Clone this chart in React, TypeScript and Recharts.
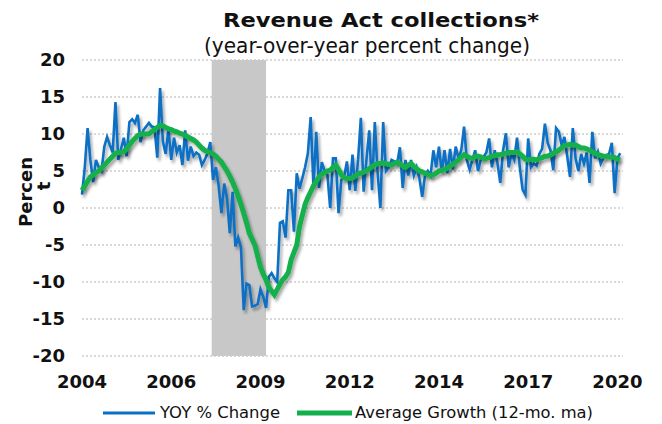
import React from "react";
import {
  CartesianGrid,
  Label,
  Line,
  LineChart,
  ReferenceArea,
  ReferenceLine,
  XAxis,
  YAxis,
} from "recharts";

// monthly, Jan 2004 .. Feb 2020
const yoyChange = [
  1.8, 5.5, 10.8, 6.5, 3.5, 6.5, 5.5, 5.0, 8.3, 9.6, 8.5, 7.5, // 2004
  14.3, 6.5, 8.0, 9.5, 7.0, 11.6, 12.0, 11.5, 12.6, 8.9, 10.5, 11.0, // 2005
  11.5, 11.0, 10.9, 6.8, 16.2, 9.0, 7.3, 10.7, 6.5, 9.5, 7.5, 8.5, // 2006
  5.8, 10.5, 6.4, 8.3, 7.0, 7.5, 7.2, 5.8, 6.5, 7.4, 8.9, 3.8, // 2007
  5.5, 3.0, -0.7, 3.3, 1.3, -3.4, 2.2, -5.2, -4.0, -5.3, -13.8, -10.2, // 2008
  -10.4, -13.3, -13.2, -13.0, -11.0, -12.0, -13.5, -9.3, -8.8, -9.5, -10.0, -2.0, // 2009
  -1.8, -4.0, 2.4, 2.4, -3.2, 4.7, 2.6, 4.0, 5.5, 7.4, 12.3, 2.9, // 2010
  10.3, 2.7, 6.2, 5.0, 4.5, 0.0, 6.7, 6.7, -0.7, 3.8, 4.2, 6.3, // 2011
  2.4, 7.2, 2.3, 6.5, 12.2, 2.2, 6.5, 10.5, 2.4, 11.6, 4.8, 0.0, // 2012
  11.6, 5.0, 5.5, 6.5, 6.3, 6.0, 8.2, 2.7, 6.5, 4.4, 6.5, 4.4, // 2013
  5.5, 4.0, 1.5, 4.4, 5.0, 4.4, 7.8, 5.5, 8.3, 4.8, 7.8, 4.7, // 2014
  8.0, 5.2, 8.3, 6.7, 7.8, 11.0, 6.5, 5.2, 6.5, 7.8, 5.0, 6.5, // 2015
  6.9, 7.5, 9.4, 5.5, 7.8, 6.0, 3.4, 7.8, 10.1, 5.5, 7.3, 6.5, // 2016
  9.5, 5.5, 2.5, 1.8, 9.4, 5.5, 6.0, 5.7, 7.3, 8.0, 11.4, 8.8, // 2017
  7.8, 5.1, 10.8, 10.3, 8.5, 9.6, 7.0, 4.2, 10.8, 6.7, 5.0, 7.3, // 2018
  6.0, 7.5, 3.4, 10.3, 6.7, 7.6, 6.0, 6.8, 7.1, 7.3, 8.8, 2.0, // 2019
  6.7, 7.4, // 2020
];

const avgGrowth = [
  2.4, 3.0, 3.6, 4.2, 4.5, 4.8, 5.0, 5.4, 5.8, 6.2, 6.6, 7.0,
  7.4, 7.5, 7.5, 7.6, 8.0, 8.5, 9.0, 9.4, 9.8, 10.0, 10.0, 10.0,
  10.0, 10.3, 10.6, 10.9, 11.2, 11.1, 10.9, 10.7, 10.6, 10.4, 10.3, 10.1,
  10.0, 9.8, 9.6, 9.4, 9.2, 8.9, 8.5, 8.1, 7.8, 7.6, 7.5, 7.3,
  7.0, 6.6, 6.2, 5.6, 5.0, 4.3, 3.5, 2.6, 1.6, 0.5, -0.7, -2.0,
  -3.4, -4.2, -5.0, -6.5, -8.0, -8.9, -9.7, -10.7, -11.2, -11.7, -11.0, -10.3,
  -9.7, -9.3, -8.7, -7.0, -6.0, -5.0, -2.5, -1.0, 0.5, 1.4, 2.2, 3.0,
  3.6, 4.2, 4.6, 4.8, 5.0, 5.1, 5.5, 5.8, 5.2, 4.5, 4.1, 4.0,
  4.0, 4.1, 4.3, 4.6, 4.7, 4.9, 5.0, 5.3, 5.6, 5.8, 6.0, 6.0,
  6.1, 6.0, 5.9, 5.8, 6.0, 6.2, 6.0, 5.7, 5.5, 5.8, 6.0, 5.6,
  5.3, 5.0, 4.9, 4.7, 4.5, 4.4, 4.5, 4.7, 5.0, 5.1, 5.2, 5.4,
  5.7, 5.9, 6.2, 6.5, 6.9, 7.2, 7.0, 6.8, 6.7, 7.0, 7.0, 6.9,
  6.7, 6.7, 6.8, 7.0, 7.1, 7.2, 7.2, 7.3, 7.4, 7.5, 7.5, 7.5,
  7.6, 7.3, 7.0, 6.6, 6.5, 6.6, 6.6, 6.5, 6.7, 6.8, 7.0, 7.0,
  7.2, 7.4, 7.6, 7.8, 8.1, 8.4, 8.5, 8.6, 8.5, 8.5, 8.3, 8.1,
  8.1, 8.0, 7.8, 7.6, 7.4, 7.2, 7.1, 7.0, 7.0, 6.9, 6.9, 6.8,
  6.6, 6.5,
];

// x ticks every 32 months
const tickMonths = [0, 32, 64, 96, 128, 160, 192];
const tickLabels = ["2004", "2006", "2009", "2012", "2014", "2017", "2020"];
const yTicks = [-20, -15, -10, -5, 0, 5, 10, 15, 20];

// recession Dec 2007 - Jun 2009 (month index)
const recession = [46.5, 66];

const data = yoyChange.map((v, i) => ({ m: i, yoy: v, avg: avgGrowth[i] }));

const FONT = "'DejaVu Sans', Verdana, sans-serif";
const BLUE = "#0a70c4";
const GREEN = "#12b04c";

function YTitle() {
  return (
    <text
      fontFamily={FONT}
      fontWeight="bold"
      fontSize={18}
      fill="#111"
      textAnchor="middle"
      transform="rotate(-90)"
    >
      <tspan x={-192} y={32}>Percen</tspan>
      <tspan x={-186} y={50}>t</tspan>
    </text>
  );
}

export default function App() {
  return (
    <div
      style={{
        position: "absolute",
        left: 0,
        top: 0,
        width: 662,
        height: 424,
        background: "#fff",
        fontFamily: FONT,
      }}
    >
      <svg width={0} height={0} style={{ position: "absolute" }}>
        <defs>
          <filter id="shadow" x="-5%" y="-5%" width="115%" height="120%">
            <feGaussianBlur in="SourceAlpha" stdDeviation="1.6" />
            <feOffset dx="2" dy="3" result="off" />
            <feComponentTransfer>
              <feFuncA type="linear" slope="0.35" />
            </feComponentTransfer>
            <feMerge>
              <feMergeNode />
              <feMergeNode in="SourceGraphic" />
            </feMerge>
          </filter>
        </defs>
      </svg>

      <svg
        width={662}
        height={60}
        style={{ position: "absolute", left: 0, top: 0 }}
      >
        <text
          x={381}
          y={27}
          textAnchor="middle"
          fontFamily={FONT}
          fontWeight="bold"
          fontSize={19}
          fill="#111"
          textLength={316}
          lengthAdjust="spacingAndGlyphs"
        >
          Revenue Act collections*
        </text>
        <text
          x={367}
          y={53}
          textAnchor="middle"
          fontFamily={FONT}
          fontSize={20.5}
          fill="#111"
          textLength={326}
          lengthAdjust="spacingAndGlyphs"
        >
          (year-over-year percent change)
        </text>
      </svg>

      <LineChart
        width={662}
        height={424}
        data={data}
        margin={{ top: 60, right: 39, bottom: 28, left: 0 }}
      >
        <CartesianGrid
          vertical={false}
          stroke="#b4b4b4"
          strokeDasharray="2 2"
        />
        <ReferenceArea
          x1={recession[0]}
          x2={recession[1]}
          y1={-20}
          y2={20}
          fill="#c8c8c8"
          fillOpacity={1}
          stroke="none"
        />
        <XAxis
          type="number"
          dataKey="m"
          domain={[0, 194]}
          ticks={tickMonths}
          tickFormatter={(v) => tickLabels[tickMonths.indexOf(v)]}
          interval={0}
          axisLine={false}
          tickLine={false}
          tickSize={0}
          tickMargin={19}
          height={40}
          tick={{ fontFamily: FONT, fontWeight: "bold", fontSize: 18, fill: "#111" }}
        />
        <YAxis
          type="number"
          domain={[-20, 20]}
          ticks={yTicks}
          interval={0}
          width={82}
          axisLine={false}
          tickLine={false}
          tickSize={0}
          tickMargin={17}
          tick={{ fontFamily: FONT, fontWeight: "bold", fontSize: 18, fill: "#111" }}
        >
          <Label content={<YTitle />} />
        </YAxis>
        <ReferenceLine
          y={0}
          stroke="#1a1a1a"
          strokeWidth={2}
          filter="url(#shadow)"
        />
        <Line
          type="linear"
          dataKey="yoy"
          stroke={BLUE}
          strokeWidth={2.6}
          dot={false}
          activeDot={false}
          filter="url(#shadow)"
          isAnimationActive={false}
        />
        <Line
          type="linear"
          dataKey="avg"
          stroke={GREEN}
          strokeWidth={5}
          dot={false}
          activeDot={false}
          filter="url(#shadow)"
          isAnimationActive={false}
        />
      </LineChart>

      <svg
        width={662}
        height={30}
        style={{ position: "absolute", left: 0, top: 398 }}
      >
        <line x1={103} x2={155} y1={15} y2={15} stroke={BLUE} strokeWidth={3} />
        <text
          x={160}
          y={20}
          fontFamily={FONT}
          fontSize={15}
          fill="#111"
          textLength={120}
          lengthAdjust="spacingAndGlyphs"
        >
          YOY % Change
        </text>
        <line x1={297} x2={352} y1={15} y2={15} stroke={GREEN} strokeWidth={5} />
        <text
          x={355}
          y={20}
          fontFamily={FONT}
          fontSize={15}
          fill="#111"
          textLength={238}
          lengthAdjust="spacingAndGlyphs"
        >
          Average Growth (12-mo. ma)
        </text>
      </svg>
    </div>
  );
}
